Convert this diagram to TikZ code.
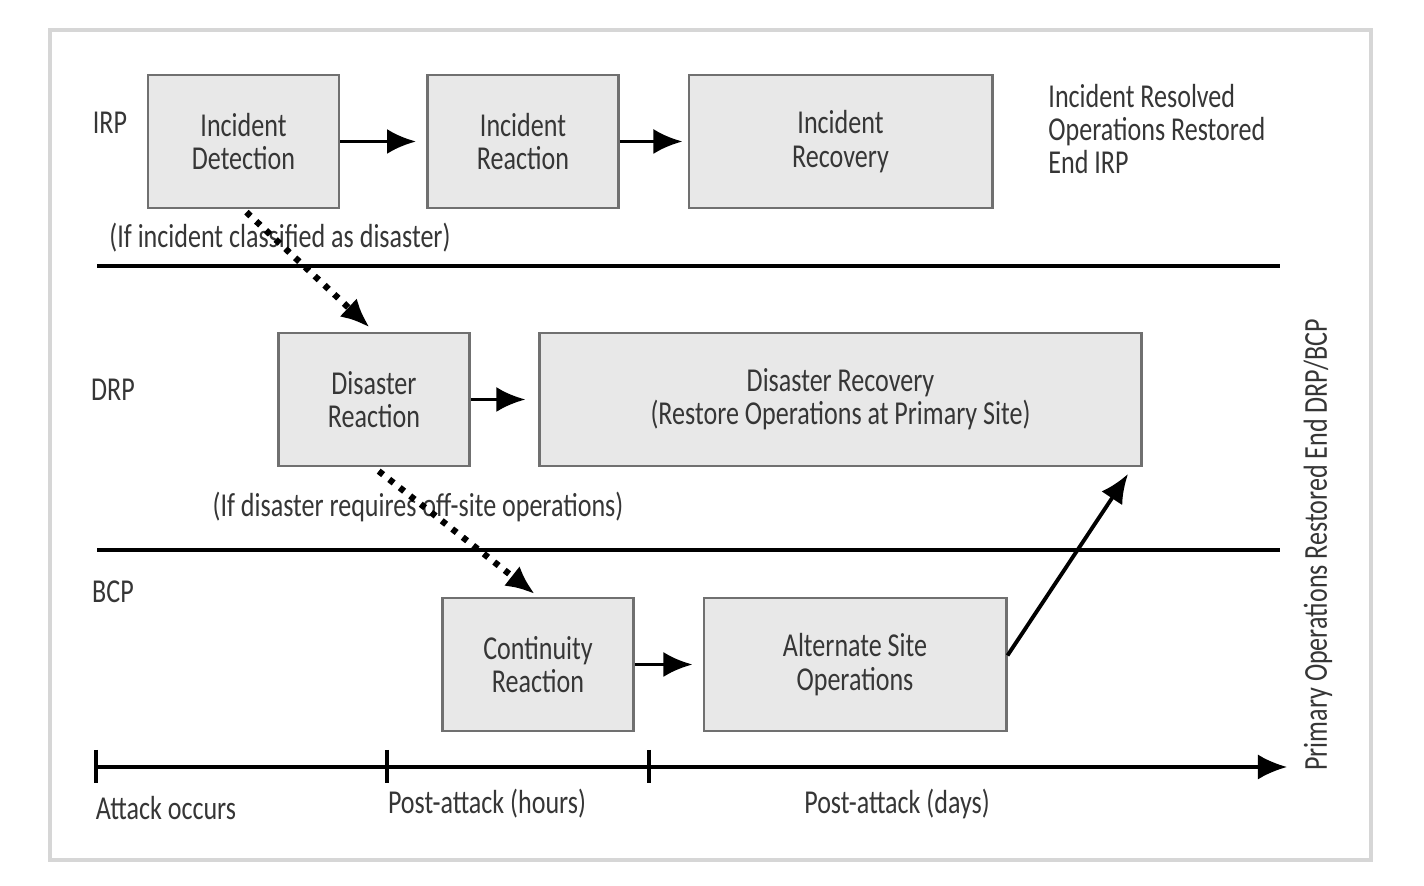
\documentclass[tikz,border=0pt]{standalone}
\usepackage{fontspec}
\setmainfont{Carlito}[FakeStretch=0.78]
\usepackage{tikz}
\definecolor{BoxFill}{HTML}{E8E8E8}
\definecolor{BoxLine}{HTML}{707070}
\definecolor{TextGray}{HTML}{363636}
\definecolor{FrameGray}{HTML}{D6D6D6}
\usetikzlibrary{arrows.meta,calc}

\begin{document}
\begin{tikzpicture}[
x=0.01cm, y=-0.01cm,
every node/.style={
	text=TextGray,
	font=\fontsize{9.5}{9.5}\selectfont
},
box/.style={
	rectangle,
	draw=BoxLine,
	fill=BoxFill,
	line width=0.8pt,
	align=center,
	minimum height=1.33cm,
	minimum width=1.91cm
},
wide/.style={box, minimum width=3.03cm},
flow/.style={
	line width=1.1pt,
	-{Latex[length=2.9mm,width=2.5mm]},
	shorten >=0.1cm
},
dots/.style={flow, line width=1.8pt, dash pattern=on 1.6pt off 2.2pt},
lane/.style={line width=0.9pt},
]

% page and frame
\fill[white] (0,0) rectangle (1424,886);
\useasboundingbox (0,0) rectangle (1424,886);
\draw[FrameGray, line width=1pt] (50,30) rectangle (1371,860);

% IRP
\node (irp) at (110,123) {IRP};
\node[box] (det) at (243.5,141.5) {Incident\\Detection};
\node[box] (rea) at (523,141.5) {Incident\\Reaction};
\node[wide] (rec) at (840.5,141.5) {Incident\\Recovery};
\node[anchor=west, align=left] (done) at (1036,129) {Incident Resolved\\Operations Restored\\End IRP};

\draw[flow] (det) to (rea);
\draw[flow, shorten >=0.05cm] (rea) to (rec);

\node (cond1) at (280,238) {(If incident classified as disaster)};
\draw[lane] (97,266) to (1280,266);

% DRP
\node (drp) at (113,390) {DRP};
\node[box] (drea) at (374,399.5) {Disaster\\Reaction};
\node[box, minimum width=6.01cm] (drec) at (840.5,399.5) {Disaster Recovery\\(Restore Operations at Primary Site)};

\draw[flow, shorten >=0.13cm] (drea) to (drec);
\draw[dots, shorten <=0.04cm, shorten >=0.06cm] (det.south) to (drea.north);

\node (cond2) at (418,507) {(If disaster requires off-site operations)};
\draw[lane] (97,550) to (1280,550);

% BCP
\node (bcp) at (113,592) {BCP};
\node[box] (crea) at (538,664.5) {Continuity\\Reaction};
\node[wide, minimum width=3.02cm] (alt) at (855,664.5) {Alternate Site\\Operations};

\draw[flow] (crea) to (alt);
\draw[dots, shorten <=0.06cm, shorten >=0.04cm] (drea.south) to (crea.north);

\coordinate (back) at (1128,474);
\draw[flow, shorten >=0pt] ($(alt.east)+(0,-9)$) to (back);

% time line
\coordinate (t0) at (96,767);
\coordinate (t1) at (387,767);
\coordinate (t2) at (649,767);
\coordinate (tend) at (1287,767);
\draw[flow, line width=0.9pt, shorten >=0pt] (t0) to (tend);
\foreach \t in {t0,t1,t2}
	\draw[lane] ($(\t)+(0,-17)$) to ($(\t)+(0,16)$);

\node (lbl0) at (166,808) {Attack occurs};
\node (lbl1) at (487,804) {Post-attack (hours)};
\node (lbl2) at (897,804) {Post-attack (days)};

\node[rotate=90] (endall) at (1318,545) {Primary Operations Restored End DRP/BCP};

\end{tikzpicture}
\end{document}
